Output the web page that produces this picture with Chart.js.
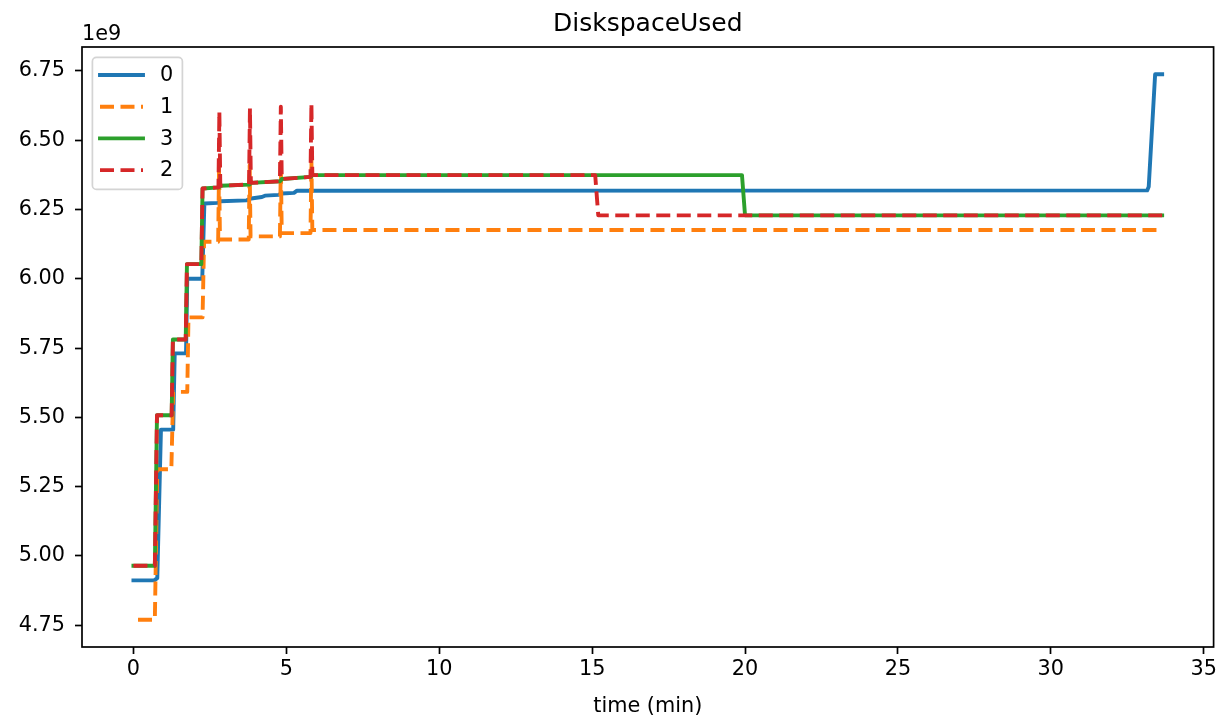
<!DOCTYPE html>
<html>
<head>
<meta charset="utf-8">
<title>DiskspaceUsed</title>
<script src="https://cdn.jsdelivr.net/npm/chart.js@4.4.1/dist/chart.umd.min.js"></script>
<style>
    html, body { margin: 0; padding: 0; background: #fff; }
    #wrap { width: 1220px; height: 719px; }
</style>
</head>
<body>
<div id="wrap"><canvas id="diskChart" width="1220" height="719"></canvas></div>
<script>
// ==========================================
// DATA  (time in minutes, disk used in units of 1e9 bytes)
// ==========================================

const seriesLabels = ['0', '1', '3', '2'];
const seriesColors = ['#1f77b4', '#ff7f0e', '#2ca02c', '#d62728'];
const seriesDashed = [false, true, false, true];

// series "0"
const time0 = [0, 0.68, 0.78, 0.9, 1.3, 1.35, 1.72, 1.76, 2.25, 2.32, 2.75, 2.85,
               3.7, 3.85, 4.2, 4.3, 4.75, 4.85, 5.25, 5.35, 33.15, 33.2, 33.41, 33.64];
const used0 = [4.912, 4.912, 4.92, 5.456, 5.456, 5.731, 5.731, 6.0, 6.0, 6.272, 6.274, 6.28,
               6.283, 6.29, 6.295, 6.30, 6.303, 6.308, 6.31, 6.318, 6.319, 6.332, 6.738, 6.738];

// series "1"
const time1 = [0.15, 0.7, 0.78, 1.24, 1.3, 1.76, 1.8, 2.26, 2.31, 2.77, 2.8, 2.83,
               3.77, 3.8, 3.83, 4.79, 4.82, 4.85, 5.79, 5.82, 5.85, 33.6];
const used1 = [4.77, 4.77, 5.313, 5.313, 5.592, 5.592, 5.861, 5.861, 6.134, 6.134, 6.40, 6.142,
               6.142, 6.41, 6.153, 6.153, 6.42, 6.165, 6.165, 6.43, 6.176, 6.176];

// series "3"
const time3 = [0, 0.7, 0.77, 1.25, 1.29, 1.71, 1.75, 2.22, 2.26, 2.8, 2.84, 3.8,
               3.84, 4.8, 4.85, 5.8, 5.85, 19.9, 20.0, 33.64];
const used3 = [4.965, 4.965, 5.508, 5.508, 5.781, 5.781, 6.053, 6.053, 6.326, 6.33, 6.336, 6.34,
               6.346, 6.352, 6.36, 6.368, 6.374, 6.374, 6.229, 6.229];

// series "2"
const time2 = [0, 0.7, 0.77, 1.25, 1.29, 1.71, 1.75, 2.22, 2.26, 2.78, 2.81, 2.84,
               3.78, 3.81, 3.84, 4.79, 4.82, 4.85, 5.79, 5.82, 5.85, 15.1, 15.2, 33.64];
const used2 = [4.965, 4.965, 5.508, 5.508, 5.781, 5.781, 6.053, 6.053, 6.326, 6.33, 6.603, 6.336,
               6.34, 6.615, 6.346, 6.352, 6.621, 6.36, 6.368, 6.633, 6.374, 6.374, 6.229, 6.229];

const xTicks = [0, 5, 10, 15, 20, 25, 30, 35];
const yTicks = [4.75, 5.00, 5.25, 5.50, 5.75, 6.00, 6.25, 6.50, 6.75];

const chartTitle = 'DiskspaceUsed';
const xTitle = 'time (min)';
const yOffsetText = '1e9';

// ==========================================
// HELPERS
// ==========================================

const FONT = '"DejaVu Sans", "Liberation Sans", sans-serif';
const allTimes = [time0, time1, time3, time2];
const allUsed = [used0, used1, used3, used2];

function toPoints(ts, vs) {
    return ts.map((t, i) => ({ x: t, y: vs[i] }));
}

// matplotlib-style 5% margins around the data
function paddedRange(lists) {
    const flat = [].concat(...lists);
    const lo = Math.min(...flat);
    const hi = Math.max(...flat);
    const m = (hi - lo) * 0.05;
    return [lo - m, hi + m];
}

const [xMin, xMax] = paddedRange(allTimes);
const [yMin, yMax] = paddedRange(allUsed);

// later series must be painted on top, like matplotlib -> higher order drawn first
const datasets = seriesLabels.map((label, i) => ({
    label: label,
    data: toPoints(allTimes[i], allUsed[i]),
    order: seriesLabels.length - i,
    borderColor: seriesColors[i],
    backgroundColor: seriesColors[i],
    borderWidth: 3.9,
    borderDash: seriesDashed[i] ? [14, 6.5] : [],
    borderCapStyle: seriesDashed[i] ? 'butt' : 'square',
    borderJoinStyle: 'round',
    pointRadius: 0,
    tension: 0,
    fill: false
}));

// ==========================================
// DECORATION PLUGIN (spines, title, offset text, legend)
// ==========================================

const mplDecor = {
    id: 'mplDecor',
    afterDraw(chart) {
        const { ctx, chartArea } = chart;
        const { left, top, right, bottom } = chartArea;
        ctx.save();

        // spines
        ctx.strokeStyle = '#000';
        ctx.lineWidth = 1.7;
        ctx.strokeRect(left, top, right - left, bottom - top);

        // title
        ctx.fillStyle = '#000';
        ctx.font = '25px ' + FONT;
        ctx.textAlign = 'center';
        ctx.textBaseline = 'alphabetic';
        ctx.fillText(chartTitle, (left + right) / 2, 31);

        // offset text
        ctx.font = '20.8px ' + FONT;
        ctx.textAlign = 'left';
        ctx.fillText(yOffsetText, left, 40);

        // legend
        const bx = left + 10.4;
        const by = top + 10.4;
        const bw = 90;
        const bh = 132;
        ctx.beginPath();
        ctx.roundRect(bx, by, bw, bh, 4);
        ctx.fillStyle = 'rgba(255,255,255,0.8)';
        ctx.fill();
        ctx.strokeStyle = '#d4d4d4';
        ctx.lineWidth = 1.7;
        ctx.stroke();

        chart.data.datasets.forEach((ds, i) => {
            const rowY = by + 17.6 + i * 31.7;
            ctx.beginPath();
            ctx.strokeStyle = ds.borderColor;
            ctx.lineWidth = ds.borderWidth;
            ctx.lineCap = ds.borderCapStyle;
            ctx.setLineDash(ds.borderDash);
            ctx.moveTo(bx + 7.6, rowY);
            ctx.lineTo(bx + 50.6, rowY);
            ctx.stroke();
            ctx.setLineDash([]);

            ctx.fillStyle = '#000';
            ctx.font = '20.8px ' + FONT;
            ctx.textAlign = 'left';
            ctx.textBaseline = 'middle';
            ctx.fillText(ds.label, bx + 67.6, rowY + 1);
        });

        ctx.restore();
    }
};

// ==========================================
// CHART
// ==========================================

function initDiskChart() {
    const canvas = document.getElementById('diskChart');
    if (!canvas) return;

    new Chart(canvas, {
        type: 'line',
        data: { datasets: datasets },
        options: {
            responsive: false,
            animation: false,
            devicePixelRatio: 1,
            layout: { padding: { top: 47, right: 2, left: 0, bottom: 0 } },
            plugins: {
                legend: { display: false },
                title: { display: false },
                tooltip: { enabled: false }
            },
            scales: {
                x: {
                    type: 'linear',
                    min: xMin,
                    max: xMax,
                    afterBuildTicks: (scale) => { scale.ticks = xTicks.map(v => ({ value: v })); },
                    afterFit: (scale) => { scale.height = 72; },
                    grid: {
                        display: true,
                        drawOnChartArea: false,
                        drawTicks: true,
                        tickLength: 7,
                        tickColor: '#000',
                        tickWidth: 1.7
                    },
                    border: { display: false },
                    ticks: {
                        color: '#000',
                        padding: 3,
                        maxRotation: 0,
                        autoSkip: false,
                        font: { family: FONT, size: 20.8 },
                        callback: (v) => String(v)
                    },
                    title: {
                        display: true,
                        text: xTitle,
                        color: '#000',
                        font: { family: FONT, size: 20.8 },
                        padding: { top: 0, bottom: 0 }
                    }
                },
                y: {
                    type: 'linear',
                    min: yMin,
                    max: yMax,
                    afterBuildTicks: (scale) => { scale.ticks = yTicks.map(v => ({ value: v })); },
                    afterFit: (scale) => { scale.width = 82; },
                    grid: {
                        display: true,
                        drawOnChartArea: false,
                        drawTicks: true,
                        tickLength: 7,
                        tickColor: '#000',
                        tickWidth: 1.7
                    },
                    border: { display: false },
                    ticks: {
                        color: '#000',
                        padding: 10,
                        autoSkip: false,
                        font: { family: FONT, size: 20.8 },
                        callback: (v) => Number(v).toFixed(2)
                    }
                }
            }
        },
        plugins: [mplDecor]
    });
}

document.addEventListener('DOMContentLoaded', initDiskChart);
</script>
</body>
</html>
